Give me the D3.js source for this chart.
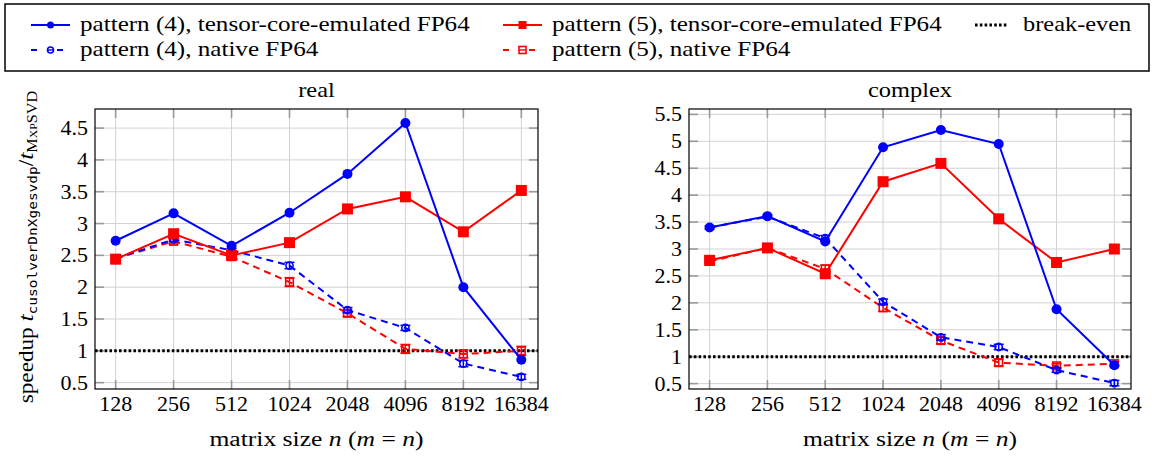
<!DOCTYPE html>
<html>
<head>
<meta charset="utf-8">
<script src="https://cdn.jsdelivr.net/npm/d3@7"></script>
<style>
  html, body { margin: 0; padding: 0; background: #fff; }
  svg { display: block; }
</style>
</head>
<body>
<svg id="chart" width="1154" height="457"></svg>
<script>
// ---------------- data ----------------
const categories = [128, 256, 512, 1024, 2048, 4096, 8192, 16384];

const realP4Emu    = [2.73, 3.16, 2.65, 3.17, 3.78, 4.58, 2.00, 0.86];
const realP5Emu    = [2.44, 2.84, 2.50, 2.70, 3.23, 3.42, 2.87, 3.52];
const realP4Native = [2.45, 2.75, 2.58, 2.34, 1.64, 1.36, 0.80, 0.59];
const realP5Native = [2.45, 2.72, 2.48, 2.08, 1.59, 1.03, 0.95, 1.00];
const realP4Err    = [0.03, 0.03, 0.03, 0.05, 0.04, 0.04, 0.05, 0.04];
const realP5Err    = [0.03, 0.04, 0.04, 0.07, 0.05, 0.07, 0.06, 0.07];

const complexP4Emu    = [3.40, 3.61, 3.14, 4.89, 5.21, 4.95, 1.88, 0.84];
const complexP5Emu    = [2.79, 3.02, 2.54, 4.25, 4.59, 3.56, 2.75, 3.00];
const complexP4Native = [3.40, 3.60, 3.20, 2.02, 1.36, 1.18, 0.75, 0.51];
const complexP5Native = [2.77, 3.02, 2.63, 1.91, 1.30, 0.89, 0.83, 0.87];
const complexP4Err    = [0.03, 0.03, 0.05, 0.05, 0.05, 0.05, 0.04, 0.05];
const complexP5Err    = [0.03, 0.03, 0.07, 0.07, 0.06, 0.06, 0.04, 0.04];

const realYTicks    = [0.5, 1, 1.5, 2, 2.5, 3, 3.5, 4, 4.5];
const complexYTicks = [0.5, 1, 1.5, 2, 2.5, 3, 3.5, 4, 4.5, 5, 5.5];
const breakEven = 1;

const legendItems = [
  {label: "pattern (4), tensor-core-emulated FP64", color: "#0000ff", dashed: false, marker: "circle", filled: true},
  {label: "pattern (5), tensor-core-emulated FP64", color: "#ff0000", dashed: false, marker: "square", filled: true},
  {label: "break-even", color: "#000", dotted: true},
  {label: "pattern (4), native FP64", color: "#0000ff", dashed: true, marker: "circle", filled: false},
  {label: "pattern (5), native FP64", color: "#ff0000", dashed: true, marker: "square", filled: false}
];

// ---------------- drawing ----------------
const SERIF = "'Liberation Serif', 'DejaVu Serif', serif";
const svg = d3.select("#chart");
const BLUE = "#0000ff", RED = "#ff0000";
const DASH = "7,5";
const WORD_SX = 1.22, LEG_SX = 1.255, NUM_SX = 1.1;

// place text at (x,y) with horizontal glyph stretch sx
function txt(parent, x, y, size, sx, anchor) {
  return parent.append("text")
    .attr("transform", `translate(${x},${y}) scale(${sx},1)`)
    .attr("text-anchor", anchor || "start")
    .style("font-family", SERIF).style("font-size", size + "px").style("fill", "#000");
}

function drawPanel(cfg) {
  const {x0, x1, y0, y1, yDomain, yTicks, title, series} = cfg;
  const g = svg.append("g");
  const x = d3.scaleLog().base(2).domain([100, 20000]).range([x0, x1]);
  const y = d3.scaleLinear().domain(yDomain).range([y1, y0]);

  // grid
  g.append("g").selectAll("line").data(yTicks).join("line")
    .attr("x1", x0).attr("x2", x1)
    .attr("y1", d => y(d)).attr("y2", d => y(d))
    .attr("stroke", "#d2d2d2").attr("stroke-width", 1);
  g.append("g").selectAll("line").data(categories).join("line")
    .attr("y1", y0).attr("y2", y1)
    .attr("x1", d => x(d)).attr("x2", d => x(d))
    .attr("stroke", "#d2d2d2").attr("stroke-width", 1);

  // inner ticks
  const tl = 9;
  const tickCol = "#9a9a9a";
  g.append("g").selectAll("line").data(yTicks).join("line")
    .attr("x1", x0).attr("x2", x0 + tl).attr("y1", d => y(d)).attr("y2", d => y(d))
    .attr("stroke", tickCol).attr("stroke-width", 1.6);
  g.append("g").selectAll("line").data(yTicks).join("line")
    .attr("x1", x1 - tl).attr("x2", x1).attr("y1", d => y(d)).attr("y2", d => y(d))
    .attr("stroke", tickCol).attr("stroke-width", 1.6);
  g.append("g").selectAll("line").data(categories).join("line")
    .attr("x1", d => x(d)).attr("x2", d => x(d)).attr("y1", y1 - tl).attr("y2", y1)
    .attr("stroke", tickCol).attr("stroke-width", 1.6);
  g.append("g").selectAll("line").data(categories).join("line")
    .attr("x1", d => x(d)).attr("x2", d => x(d)).attr("y1", y0).attr("y2", y0 + tl)
    .attr("stroke", tickCol).attr("stroke-width", 1.6);

  // tick labels
  const yt = g.append("g");
  yTicks.forEach(d => txt(yt, x0 - 7, y(d) + 7, 20, NUM_SX, "end").text(d));
  const xt = g.append("g");
  categories.forEach(d => txt(xt, x(d), y1 + 22, 20, NUM_SX, "middle").text(d));

  // title
  txt(g, (x0 + x1) / 2, y0 - 12, 20, WORD_SX, "middle").text(title);

  // x label
  const xl = txt(g, (x0 + x1) / 2, y1 + 57, 20, 1.28, "middle");
  xl.append("tspan").text("matrix size ");
  xl.append("tspan").style("font-style", "italic").text("n");
  xl.append("tspan").text(" (");
  xl.append("tspan").style("font-style", "italic").text("m");
  xl.append("tspan").text(" = ");
  xl.append("tspan").style("font-style", "italic").text("n");
  xl.append("tspan").text(")");

  // break-even
  g.append("line").attr("x1", x0).attr("x2", x1)
    .attr("y1", y(breakEven)).attr("y2", y(breakEven))
    .attr("stroke", "#000").attr("stroke-width", 3).attr("stroke-dasharray", "2.6,2.2");

  // series
  const line = d3.line().x((d, i) => x(categories[i])).y(d => y(d));
  series.forEach(s => {
    g.append("path").datum(s.values).attr("d", line)
      .attr("fill", "none").attr("stroke", s.color).attr("stroke-width", 2)
      .attr("stroke-dasharray", s.dashed ? DASH : null);
    if (s.err) {
      const eg = g.append("g").attr("stroke", s.color).attr("stroke-width", 1.5);
      s.values.forEach((v, i) => {
        const cx = x(categories[i]);
        const lo = y(v - s.err[i]), hi = y(v + s.err[i]);
        eg.append("line").attr("x1", cx).attr("x2", cx).attr("y1", lo).attr("y2", hi);
        eg.append("line").attr("x1", cx - 5).attr("x2", cx + 5).attr("y1", lo).attr("y2", lo);
        eg.append("line").attr("x1", cx - 5).attr("x2", cx + 5).attr("y1", hi).attr("y2", hi);
      });
    }
    s.values.forEach((v, i) => drawMarker(g, x(categories[i]), y(v), s));
  });

  // axis box
  g.append("rect").attr("x", x0).attr("y", y0).attr("width", x1 - x0).attr("height", y1 - y0)
    .attr("fill", "none").attr("stroke", "#000").attr("stroke-width", 1.2);
}

function drawMarker(g, cx, cy, s) {
  if (s.marker === "circle") {
    if (s.filled) {
      g.append("circle").attr("cx", cx).attr("cy", cy).attr("r", 5).attr("fill", s.color);
    } else {
      g.append("circle").attr("cx", cx).attr("cy", cy).attr("r", 3.6)
        .attr("fill", "none").attr("stroke", s.color).attr("stroke-width", 1.6);
    }
  } else {
    if (s.filled) {
      g.append("rect").attr("x", cx - 5.5).attr("y", cy - 5.5).attr("width", 11).attr("height", 11).attr("fill", s.color);
    } else {
      g.append("rect").attr("x", cx - 3.8).attr("y", cy - 3.8).attr("width", 7.6).attr("height", 7.6)
        .attr("fill", "none").attr("stroke", s.color).attr("stroke-width", 1.6);
    }
  }
}

drawPanel({
  x0: 95, x1: 538, y0: 109, y1: 389, yDomain: [0.4, 4.8], yTicks: realYTicks, title: "real",
  series: [
    {values: realP5Native, err: realP5Err, color: RED, dashed: true, marker: "square", filled: false},
    {values: realP4Native, err: realP4Err, color: BLUE, dashed: true, marker: "circle", filled: false},
    {values: realP5Emu, color: RED, dashed: false, marker: "square", filled: true},
    {values: realP4Emu, color: BLUE, dashed: false, marker: "circle", filled: true}
  ]
});
drawPanel({
  x0: 689, x1: 1131, y0: 109, y1: 389, yDomain: [0.4, 5.6], yTicks: complexYTicks, title: "complex",
  series: [
    {values: complexP5Native, err: complexP5Err, color: RED, dashed: true, marker: "square", filled: false},
    {values: complexP4Native, err: complexP4Err, color: BLUE, dashed: true, marker: "circle", filled: false},
    {values: complexP5Emu, color: RED, dashed: false, marker: "square", filled: true},
    {values: complexP4Emu, color: BLUE, dashed: false, marker: "circle", filled: true}
  ]
});

// y label (rotated)
const yl = svg.append("text").attr("transform", "translate(33,247) rotate(-90) scale(1.16,1)")
  .attr("text-anchor", "middle")
  .style("font-family", SERIF).style("font-size", "20px").style("fill", "#000");
yl.append("tspan").text("speedup ");
yl.append("tspan").style("font-style", "italic").style("font-size", "22px").text("t");
yl.append("tspan").attr("dy", 4).style("font-family", "'DejaVu Sans Mono', 'Liberation Mono', monospace")
  .style("font-size", "12.5px").text("cusolverDnXgesvdp");
yl.append("tspan").attr("dy", -4).text("/");
yl.append("tspan").style("font-style", "italic").style("font-size", "22px").text("t");
yl.append("tspan").attr("dy", 4).style("font-size", "14px").style("font-variant", "small-caps").text("MxpSVD");

// legend
svg.append("rect").attr("x", 5).attr("y", 4).attr("width", 1144).attr("height", 67)
  .attr("fill", "#fff").attr("stroke", "#000").attr("stroke-width", 1.5);
const legPos = [
  {x: 31, y: 25}, {x: 503, y: 25}, {x: 975, y: 25},
  {x: 31, y: 50}, {x: 503, y: 50}
];
legendItems.forEach((it, i) => {
  const p = legPos[i];
  const lg = svg.append("g");
  if (it.dotted) {
    lg.append("line").attr("x1", p.x).attr("x2", p.x + 33).attr("y1", p.y).attr("y2", p.y)
      .attr("stroke", "#000").attr("stroke-width", 3).attr("stroke-dasharray", "2.6,2.2");
    txt(lg, p.x + 48, p.y + 6, 20, WORD_SX).text(it.label);
    return;
  }
  lg.append("line").attr("x1", p.x).attr("x2", p.x + 39).attr("y1", p.y).attr("y2", p.y)
    .attr("stroke", it.color).attr("stroke-width", 2)
    .attr("stroke-dasharray", it.dashed ? "6,7,0,13,6,7" : null);
  if (it.filled) {
    if (it.marker === "circle") lg.append("circle").attr("cx", p.x + 19.5).attr("cy", p.y).attr("r", 3.5).attr("fill", it.color);
    else lg.append("rect").attr("x", p.x + 15.5).attr("y", p.y - 4).attr("width", 8).attr("height", 8).attr("fill", it.color);
  } else {
    if (it.marker === "circle") {
      lg.append("circle").attr("cx", p.x + 19.5).attr("cy", p.y).attr("r", 3).attr("fill", "none").attr("stroke", it.color).attr("stroke-width", 1.6);
      lg.append("line").attr("x1", p.x + 16.5).attr("x2", p.x + 22.5).attr("y1", p.y).attr("y2", p.y).attr("stroke", it.color).attr("stroke-width", 1.4);
    } else {
      lg.append("rect").attr("x", p.x + 16).attr("y", p.y - 3.5).attr("width", 7).attr("height", 7).attr("fill", "none").attr("stroke", it.color).attr("stroke-width", 1.6);
      lg.append("line").attr("x1", p.x + 16).attr("x2", p.x + 23).attr("y1", p.y).attr("y2", p.y).attr("stroke", it.color).attr("stroke-width", 1.4);
    }
  }
  txt(lg, p.x + 49, p.y + 6, 20, LEG_SX).text(it.label);
});
</script>
</body>
</html>
